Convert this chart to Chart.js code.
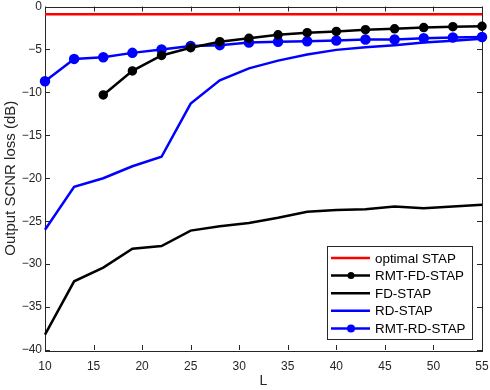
<!DOCTYPE html>
<html>
<head>
<meta charset="utf-8">
<script src="https://cdn.jsdelivr.net/npm/chart.js@4/dist/chart.umd.min.js"></script>
<style>
  html, body { margin: 0; padding: 0; background: #fff; }
  #wrap { width: 490px; height: 390px; }
</style>
</head>
<body>
<div id="wrap"><canvas id="scnr"></canvas></div>
<script>
// sample sizes L
let L = [10, 13, 16, 19, 22, 25, 28, 31, 34, 37, 40, 43, 46, 49, 52, 55];
let optimal = [-0.9, -0.9, -0.9, -0.9, -0.9, -0.9, -0.9, -0.9, -0.9, -0.9, -0.9, -0.9, -0.9, -0.9, -0.9, -0.9];
let rmtFd = [null, null, -10.3, -7.5, -5.7, -4.8, -4.1, -3.7, -3.3, -3.05, -2.9, -2.7, -2.6, -2.45, -2.35, -2.3];
let fd = [-38.2, -32.0, -30.4, -28.2, -27.9, -26.1, -25.6, -25.2, -24.6, -23.9, -23.7, -23.6, -23.3, -23.5, -23.3, -23.1];
let rd = [-26.0, -21.0, -20.0, -18.6, -17.5, -11.3, -8.6, -7.2, -6.3, -5.6, -5.05, -4.75, -4.5, -4.2, -4.0, -3.75];
let rmtRd = [-8.7, -6.1, -5.9, -5.4, -5.0, -4.6, -4.5, -4.2, -4.1, -4.05, -3.95, -3.85, -3.85, -3.7, -3.6, -3.55];
let xTicks = [10, 15, 20, 25, 30, 35, 40, 45, 50, 55];
let yTicks = [0, -5, -10, -15, -20, -25, -30, -35, -40];

let FONT = "'Liberation Sans', Arial, sans-serif";
let INK = '#262626';

function pts(vals) {
  let out = [];
  for (let i = 0; i < L.length; i++) {
    if (vals[i] !== null) out.push({ x: L[i], y: vals[i] });
  }
  return out;
}

function series(label, vals, color, marker) {
  return {
    label: label,
    data: pts(vals),
    borderColor: color,
    backgroundColor: color,
    borderWidth: 2.5,
    pointRadius: marker ? marker : 0,
    pointHoverRadius: marker ? marker : 0,
    pointBackgroundColor: color,
    pointBorderColor: color,
    tension: 0,
    clip: false
  };
}

// box with inward ticks like the original figure
let boxPlugin = {
  id: 'box',
  beforeDatasetsDraw(chart) {
    let c = chart.ctx, a = chart.chartArea;
    let xs = chart.scales.x, ys = chart.scales.y;
    c.save();
    c.strokeStyle = INK;
    c.lineWidth = 1;
    c.beginPath();
    xTicks.forEach(function (t) {
      let px = Math.round(xs.getPixelForValue(t)) + 0.5;
      c.moveTo(px, a.bottom); c.lineTo(px, a.bottom - 5);
      c.moveTo(px, a.top); c.lineTo(px, a.top + 5);
    });
    yTicks.forEach(function (t) {
      let py = Math.round(ys.getPixelForValue(t)) + 0.5;
      c.moveTo(a.left, py); c.lineTo(a.left + 5, py);
      c.moveTo(a.right, py); c.lineTo(a.right - 5, py);
    });
    c.stroke();
    c.strokeRect(Math.round(a.left) + 0.5, Math.round(a.top) + 0.5,
      Math.round(a.right - a.left), Math.round(a.bottom - a.top));
    c.restore();
  },
  afterDatasetsDraw(chart) {
    // legend box in the lower right
    let c = chart.ctx;
    let x0 = 327.5, y0 = 246.5, w = 145, h = 93;
    c.save();
    c.fillStyle = '#fff';
    c.fillRect(x0, y0, w, h);
    c.strokeStyle = INK;
    c.lineWidth = 1;
    c.strokeRect(x0, y0, w, h);
    c.font = '13.4px ' + FONT;
    c.textBaseline = 'middle';
    chart.data.datasets.forEach(function (ds, i) {
      let y = 258 + i * 17.6;
      c.strokeStyle = ds.borderColor;
      c.lineWidth = 2.5;
      c.beginPath();
      c.moveTo(331, y); c.lineTo(370, y);
      c.stroke();
      if (ds.pointRadius > 0) {
        c.fillStyle = ds.borderColor;
        c.beginPath();
        c.arc(351, y, ds.pointRadius, 0, Math.PI * 2);
        c.fill();
      }
      c.fillStyle = '#000';
      c.fillText(ds.label, 375, y + 1);
    });
    c.restore();
  }
};

function minus(v) { return String(v).replace('-', '\u2212'); }

let ctx = document.getElementById('scnr').getContext('2d');
let chart = new Chart(ctx, {
  type: 'line',
  data: {
    datasets: [
      series('optimal STAP', optimal, '#ff0000', 0),
      series('RMT-FD-STAP', rmtFd, '#000000', 3.5),
      series('FD-STAP', fd, '#000000', 0),
      series('RD-STAP', rd, '#0000ff', 0),
      series('RMT-RD-STAP', rmtRd, '#0000ff', 4)
    ]
  },
  options: {
    responsive: true,
    maintainAspectRatio: false,
    animation: false,
    layout: { padding: { top: 5, right: 8, left: 0, bottom: 0 } },
    plugins: {
      legend: { display: false },
      tooltip: { enabled: false }
    },
    scales: {
      x: {
        type: 'linear',
        min: 10,
        max: 55,
        afterBuildTicks: function (s) { s.ticks = xTicks.map(function (v) { return { value: v }; }); },
        afterFit: function (s) { s.height = 40; s.paddingLeft = 0; s.paddingRight = 0; },
        grid: { display: false, drawTicks: false },
        border: { display: false },
        ticks: { color: INK, font: { family: FONT, size: 12 }, padding: 9, maxRotation: 0 },
        title: { display: true, text: 'L', color: INK, font: { family: FONT, size: 14 }, padding: { top: 0, bottom: 0 } }
      },
      y: {
        min: -40,
        max: 0,
        afterBuildTicks: function (s) { s.ticks = yTicks.map(function (v) { return { value: v }; }); },
        afterFit: function (s) { s.width = 45; s.paddingTop = 0; s.paddingBottom = 0; },
        grid: { display: false, drawTicks: false },
        border: { display: false },
        ticks: { color: INK, font: { family: FONT, size: 12 }, padding: 3, callback: function (v) { return minus(v); } },
        title: { display: true, text: 'Output SCNR loss (dB)', color: INK, font: { family: FONT, size: 15 }, padding: { top: 2, bottom: 0 } }
      }
    }
  },
  plugins: [boxPlugin]
});
</script>
</body>
</html>
